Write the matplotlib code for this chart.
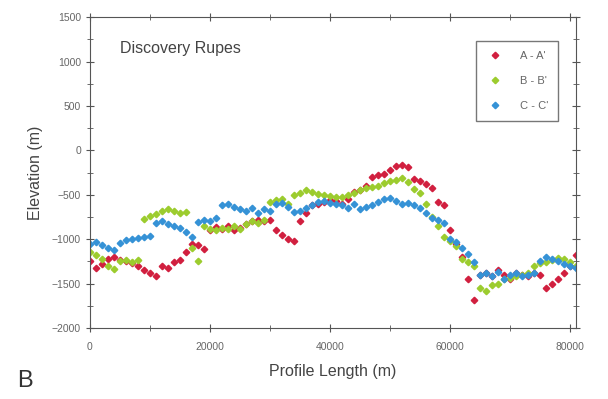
import numpy as np
import matplotlib
matplotlib.use("Agg")
import matplotlib.pyplot as plt
from matplotlib.ticker import MultipleLocator

plt.rcParams["font.family"] = ["Liberation Sans", "DejaVu Sans"]

# profile distance (m), one sample every 1 km
distance = np.arange(0, 82000, 1000)

elev_a = [-1250, -1330, -1280, -1220, -1200, -1230, -1250, -1270, -1300, -1350,
          -1380, -1420, -1300, -1320, -1260, -1230, -1150, -1050, -1060, -1110,
          -900, -860, -880, -850, -900, -870, -830, -800, -780, -790,
          -780, -900, -950, -1000, -1020, -790, -700, -620, -600, -580,
          -560, -570, -600, -550, -470, -450, -400, -300, -280, -270,
          -220, -180, -170, -190, -320, -340, -380, -420, -580, -620,
          -900, -1050, -1200, -1450, -1680, -1400, -1380, -1420, -1350, -1400,
          -1450, -1380, -1400, -1420, -1380, -1400, -1550, -1500, -1450, -1380,
          -1300, -1180]

elev_b = [-1150, -1180, -1220, -1300, -1340, -1250, -1230, -1260, -1240, -770,
          -740, -720, -680, -660, -680, -700, -690, -1100, -1250, -850,
          -880, -900, -870, -890, -850, -880, -830, -800, -820, -780,
          -580, -560, -550, -600, -500, -480, -450, -470, -490, -500,
          -510, -520, -530, -500, -480, -450, -420, -410, -400, -370,
          -340, -330, -310, -360, -440, -480, -600, -750, -850, -980,
          -1020, -1080, -1220, -1260, -1300, -1550, -1580, -1520, -1500, -1450,
          -1440, -1420, -1400, -1380, -1300, -1270, -1260, -1230, -1210, -1220,
          -1260, -1300]

elev_c = [-1050, -1030, -1060, -1100, -1120, -1040, -1010, -1000, -990, -980,
          -960, -820, -800, -830, -850, -870, -920, -980, -810, -780,
          -790, -760, -620, -600, -640, -660, -680, -650, -700, -660,
          -680, -600, -590, -640, -690, -680, -650, -620, -580, -570,
          -590, -600, -620, -650, -600, -660, -640, -620, -580, -550,
          -540, -570, -600, -590, -620, -650, -700, -760, -780, -820,
          -1000, -1030, -1100, -1170, -1260, -1400, -1380, -1420, -1370, -1450,
          -1400, -1380, -1420, -1400, -1380, -1250, -1200, -1220, -1250, -1280,
          -1300, -1320]

labels = ["A - A'", "B - B'", "C - C'"]
colors = ["#d11f3f", "#9ccc2e", "#3592d6"]

fig = plt.figure(figsize=(6.08, 3.99), dpi=100)
ax = fig.add_axes([0.148, 0.178, 0.799, 0.779])

for ys, lab, col in zip([elev_a, elev_b, elev_c], labels, colors):
    ax.plot(distance, ys, linestyle="none", marker="D", markersize=3.3,
            color=col, label=lab)

ax.set_xlim(0, 81000)
ax.set_ylim(-2000, 1500)
ax.xaxis.set_major_locator(MultipleLocator(20000))
ax.xaxis.set_minor_locator(MultipleLocator(10000))
ax.yaxis.set_major_locator(MultipleLocator(500))
ax.yaxis.set_minor_locator(MultipleLocator(250))
ax.tick_params(which="both", direction="inout", top=True, right=True,
               labelsize=7.5, labelcolor="#666666", color="#555555")
ax.tick_params(axis="x", pad=7)
ax.tick_params(which="major", length=6)
ax.tick_params(which="minor", length=4)
for s in ax.spines.values():
    s.set_color("#555555")

ax.set_xlabel("Profile Length (m)", fontsize=11.5, color="#444444", labelpad=9)
ax.set_ylabel("Elevation (m)", fontsize=11.5, color="#444444", labelpad=6)

ax.text(5000, 1100, "Discovery Rupes", fontsize=11.5, color="#444444")
fig.text(0.028, 0.03, "B", fontsize=17, color="#333333")

leg = ax.legend(loc="upper right", bbox_to_anchor=(0.975, 0.942), fontsize=8,
                fancybox=False, edgecolor="#555555", handletextpad=1.4,
                labelspacing=1.35, borderpad=0.9, handlelength=1.6,
                markerscale=1.0)
leg.get_frame().set_linewidth(1.0)
for t in leg.get_texts():
    t.set_color("#666666")

fig.savefig("out.png", dpi=100)
